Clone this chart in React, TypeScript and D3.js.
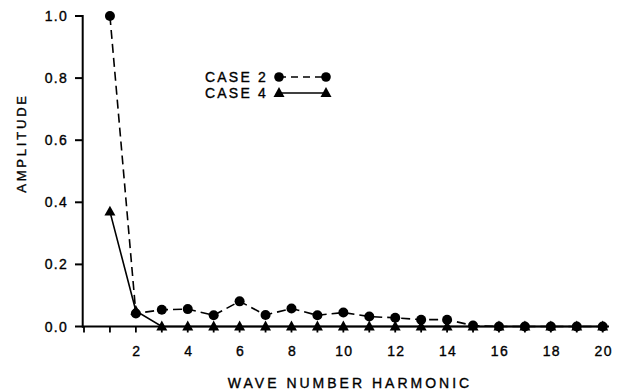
import React from "react";
import * as d3 from "d3";

const harmonics = [1, 2, 3, 4, 5, 6, 7, 8, 9, 10, 11, 12, 13, 14, 15, 16, 17, 18, 19, 20];
const case2 = [1.0, 0.042, 0.054, 0.056, 0.036, 0.081, 0.037, 0.058, 0.036, 0.045, 0.032, 0.028, 0.022, 0.022, 0.003, 0, 0, 0, 0, 0];
const case4 = [0.37, 0.05, 0, 0, 0, 0, 0, 0, 0, 0, 0, 0, 0, 0, 0, 0, 0, 0, 0, 0];
const yTicks = [0, 0.2, 0.4, 0.6, 0.8, 1.0];
const xTickLabels = [2, 4, 6, 8, 10, 12, 14, 16, 18, 20];
const xTickMarks = [0, 1, 2, 3, 4, 5, 6, 7, 8, 9, 10, 11, 12, 13, 14, 15, 16, 17, 18, 19, 20];
const seriesNames = ["CASE 2", "CASE 4"];

const FONT = "'Liberation Sans', Arial, sans-serif";
const TXT = { stroke: "#000", strokeWidth: 0.35 };

function tri(cx: number, cy: number, s: number) {
  const h = s * 0.9;
  return `M${cx},${cy - h * 0.6} L${cx + s / 2},${cy + h * 0.4} L${cx - s / 2},${cy + h * 0.4} Z`;
}

export default function App() {
  const x = d3.scaleLinear().domain([0, 20]).range([84, 602.7]);
  const y = d3.scaleLinear().domain([0, 1]).range([326.5, 16]);
  const line = d3
    .line<number>()
    .x((_, i) => x(harmonics[i]))
    .y((d) => y(d));

  return (
    <svg
      width={624}
      height={392}
      style={{ position: "absolute", left: 0, top: 0, background: "#fff" }}
      fontFamily={FONT}
    >
      {/* axes */}
      <line x1={82.7} x2={82.7} y1={15} y2={327.5} stroke="#000" strokeWidth={2} />
      <line x1={82} x2={609} y1={y(0)} y2={y(0)} stroke="#000" strokeWidth={2} />
      {yTicks.map((t) => (
        <g key={t}>
          <line x1={75} x2={83} y1={y(t)} y2={y(t)} stroke="#000" strokeWidth={2} />
          <text
            x={68}
            y={y(t)}
            textAnchor="end"
            dominantBaseline="central"
            fontSize={14}
            letterSpacing={1.3}
            {...TXT}
          >
            {t.toFixed(1)}
          </text>
        </g>
      ))}
      {xTickMarks.map((t) => (
        <line key={t} x1={x(t)} x2={x(t)} y1={y(0)} y2={y(0) + 6} stroke="#000" strokeWidth={1.8} />
      ))}
      {xTickLabels.map((t) => (
        <text key={t} x={x(t) + 1} y={355.5} textAnchor="middle" fontSize={14} letterSpacing={1.3} {...TXT}>
          {t}
        </text>
      ))}
      <text x={350} y={388} textAnchor="middle" fontSize={14} letterSpacing={3} {...TXT}>
        WAVE NUMBER HARMONIC
      </text>
      <text
        transform="translate(26,143) rotate(-90)"
        textAnchor="middle"
        fontSize={13}
        letterSpacing={2.8}
        {...TXT}
      >
        AMPLITUDE
      </text>

      {/* series lines */}
      <path d={line(case2) || ""} fill="none" stroke="#000" strokeWidth={1.6} strokeDasharray="9 5" />
      <path d={line(case4) || ""} fill="none" stroke="#000" strokeWidth={1.6} />
      {case4.map((v, i) => (
        <path key={"t" + i} d={tri(x(harmonics[i]), y(v), 11)} fill="#000" />
      ))}
      {case2.map((v, i) => (
        <circle key={"c" + i} cx={x(harmonics[i])} cy={y(v)} r={5} fill="#000" />
      ))}

      {/* legend */}
      <text x={268} y={77} textAnchor="end" dominantBaseline="central" fontSize={14} letterSpacing={2.2} {...TXT}>
        {seriesNames[0]}
      </text>
      <line x1={279} x2={326} y1={77} y2={77} stroke="#000" strokeWidth={1.6} strokeDasharray="7 5" />
      <circle cx={279} cy={77} r={4.8} fill="#000" />
      <circle cx={326} cy={77} r={4.8} fill="#000" />
      <text x={268} y={93} textAnchor="end" dominantBaseline="central" fontSize={14} letterSpacing={2.2} {...TXT}>
        {seriesNames[1]}
      </text>
      <line x1={279} x2={326} y1={93} y2={93} stroke="#000" strokeWidth={1.6} />
      <path d={tri(279, 93, 11)} fill="#000" />
      <path d={tri(326, 93, 11)} fill="#000" />
    </svg>
  );
}
